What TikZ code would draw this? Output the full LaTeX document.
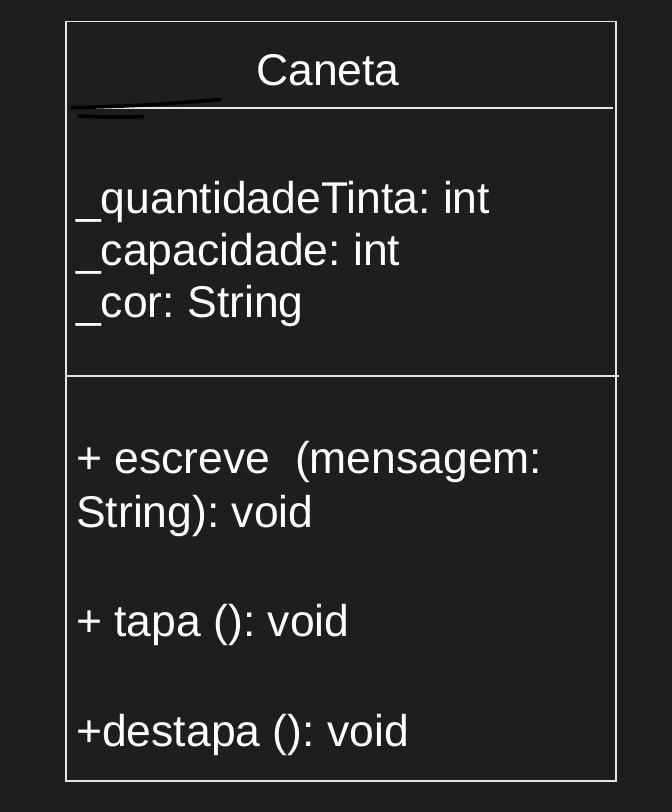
\documentclass[tikz,border=0pt]{standalone}
\usepackage{fontspec}
\setmainfont{Liberation Sans}
\usepackage{tikz}
\usetikzlibrary{positioning}
\frenchspacing

\definecolor{bgdark}{HTML}{1E1E1E}
\definecolor{umlline}{HTML}{E6E6E6}

\tikzset{
  umltext/.style={anchor=base west, inner sep=0pt, text=white, font=\fontsize{44.5}{52}\selectfont},
  umlrule/.style={draw=umlline, line width=1.6pt},
  scribble/.style={draw=black, line width=3.5pt, line cap=round}
}

\begin{document}
\begin{tikzpicture}[x=1pt, y=-1pt]
  % Background
  \fill[bgdark] (0,0) rectangle (672,812);
  \useasboundingbox (0,0) rectangle (672,812);

  % Class box
  \draw[umlrule] (66,21.5) rectangle (616,781);
  \coordinate (headL) at (72,108);
  \coordinate (headR) at (613,108);
  \coordinate (sepL) at (66,376);
  \coordinate (sepR) at (619,376);
  \draw[umlrule] (headL) -- (headR);
  \draw[umlrule] (sepL) -- (sepR);

  % Scribbles
  \draw[scribble] (72,107.5) .. controls (140,106.5) and (190,102) .. (220,99.5);
  \draw[scribble] (79,116) .. controls (105,117.5) and (125,117.5) .. (143,116.5);

  % Title
  \node[umltext, anchor=base] (title) at (328,85) {Caneta};

  % Attributes
  \node[umltext] (qtdTinta) at (76,213) {\_quantidadeTinta: int};
  \node[umltext] (capacidade) at (76,265) {\_capacidade: int};
  \node[umltext] (cor) at (76,317) {\_cor: String};

  % Methods
  \node[umltext] (escreve) at (76,473) {+ escreve\ \ (mensagem:};
  \node[umltext] (escreveRet) at (76,527) {String): void};
  \node[umltext] (tapa) at (76,636) {+ tapa (): void};
  \node[umltext] (destapa) at (76,746) {+destapa (): void};
\end{tikzpicture}
\end{document}
